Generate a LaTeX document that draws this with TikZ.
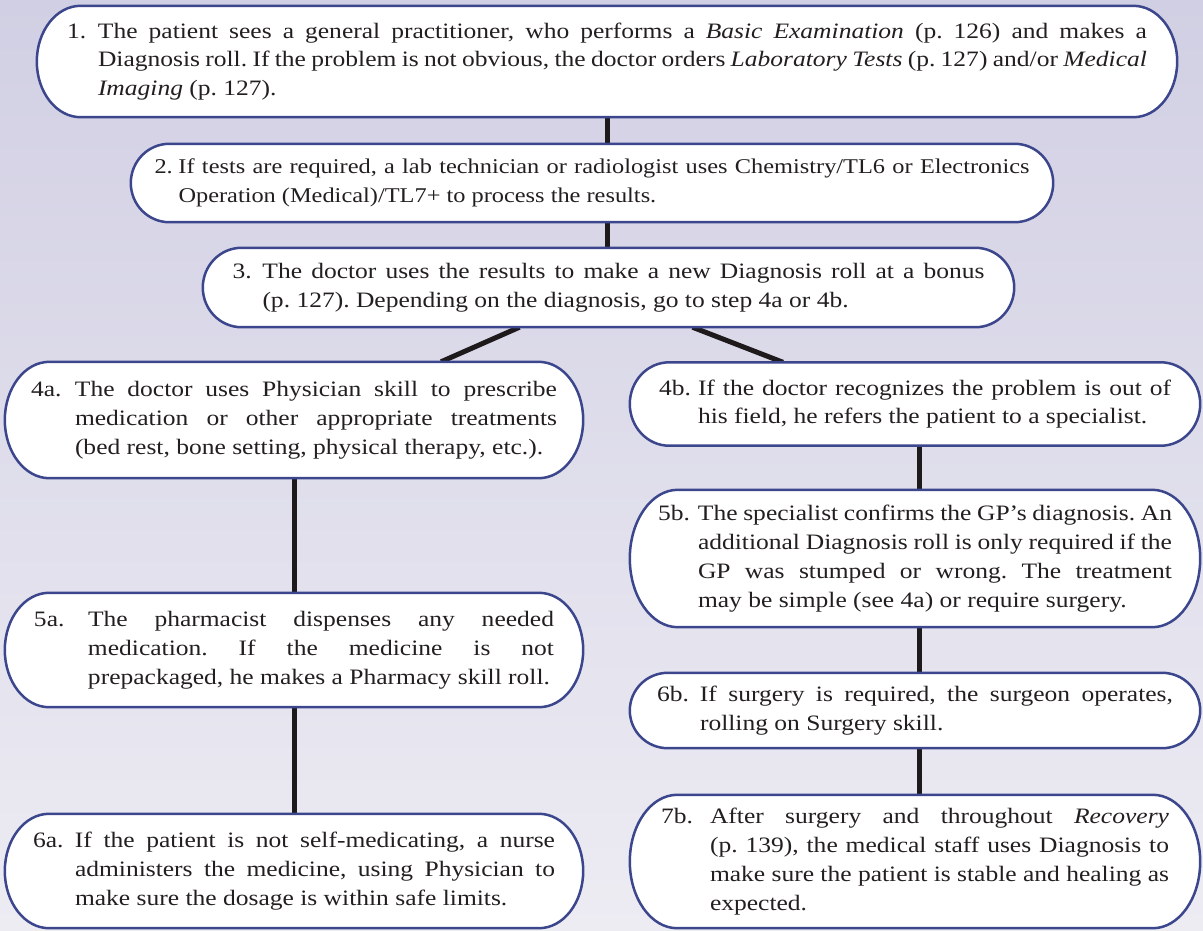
\documentclass[tikz,border=0pt]{standalone}
\usepackage{fontspec}
\setmainfont{Liberation Serif}[FakeStretch=1.16]
\usetikzlibrary{calc}
\pgfdeclarelayer{back}
\pgfdeclarelayer{outl}
\pgfsetlayers{back,outl,main}
\definecolor{bgtop}{RGB}{209,207,227}
\definecolor{bgbot}{RGB}{237,236,243}
\definecolor{boxline}{RGB}{59,70,140}
\definecolor{txt}{RGB}{35,31,32}
\definecolor{conncol}{RGB}{30,26,27}
\newcommand\stepbody[3]{\noindent\hangindent=#1pt\hangafter=1\relax\makebox[#1pt][l]{#2}#3\par}
\tolerance=10000
\hbadness=10000
\hfuzz=20pt
\hyphenpenalty=10000
\exhyphenpenalty=10000
\frenchspacing
\begin{document}
\begin{tikzpicture}[x=1pt,y=-1pt,
  flowbox/.style={inner sep=0pt, align=justify, text=txt,
    font=\fontsize{22}{28.8}\selectfont\frenchspacing},
  outline/.style={draw=boxline, line width=2.5pt, fill=white},
  conn/.style={draw=conncol, line width=5pt}]
\useasboundingbox (0,0) rectangle (1203,930);
\begin{pgfonlayer}{back}
\shade[top color=bgtop, bottom color=bgbot] (0,0) rectangle (1203,930);
\end{pgfonlayer}

% nodes (text only; outlines drawn on their own layer)
\node[flowbox, minimum width=1140pt, minimum height=111pt, text width=1080pt] (b1) at (607,61.5)
 {\stepbody{31}{1.}{The patient sees a general practitioner, who performs a \textit{Basic Examination} (p.~126) and makes a\linebreak Diagnosis roll. If the problem is not obvious, the doctor orders \textit{Laboratory Tests} (p.~127) and/or \textit{Medical}\linebreak \textit{Imaging} (p.~127).}};
\node[flowbox, font=\fontsize{21}{28.8}\selectfont\frenchspacing, minimum width=922pt, minimum height=78pt, text width=875pt] (b2) at (592,183)
 {\stepbody{24}{2.}{If tests are required, a lab technician or radiologist uses Chemistry/TL6 or Electronics\linebreak Operation (Medical)/TL7+ to process the results.}};
\node[flowbox, minimum width=811pt, minimum height=79pt, text width=752pt] (b3) at (608.5,287.5)
 {\stepbody{30}{3.}{The doctor uses the results to make a new Diagnosis roll at a bonus\linebreak (p.~127). Depending on the diagnosis, go to step 4a or 4b.}};
\node[flowbox, minimum width=578pt, minimum height=116pt, text width=526pt] (b4a) at (294,420)
 {\stepbody{44}{4a.}{The doctor uses Physician skill to prescribe\linebreak medication or other appropriate treatments\linebreak (bed rest, bone setting, physical therapy, etc.).}};
\node[flowbox, minimum width=570pt, minimum height=83pt, text width=512pt] (b4b) at (915,404)
 {\stepbody{39}{4b.}{If the doctor recognizes the problem is out of\linebreak his field, he refers the patient to a specialist.}};
\node[flowbox, minimum width=570pt, minimum height=137pt, text width=514pt] (b5b) at (915,558.5)
 {\stepbody{40}{5b.}{The specialist confirms the GP’s diagnosis. An\linebreak additional Diagnosis roll is only required if the\linebreak GP was stumped or wrong. The treatment\linebreak may be simple (see 4a) or require surgery.}};
\node[flowbox, minimum width=578pt, minimum height=114pt, text width=520pt] (b5a) at (294,650)
 {\stepbody{54}{5a.}{The pharmacist dispenses any needed\linebreak medication. If the medicine is not\linebreak prepackaged, he makes a Pharmacy skill roll.}};
\node[flowbox, minimum width=578pt, minimum height=114pt, text width=522pt] (b6a) at (294,871)
 {\stepbody{42}{6a.}{If the patient is not self-medicating, a nurse\linebreak administers the medicine, using Physician to\linebreak make sure the dosage is within safe limits.}};
\node[flowbox, minimum width=570pt, minimum height=75pt, text width=516pt] (b6b) at (915,710.5)
 {\stepbody{43}{6b.}{If surgery is required, the surgeon operates,\linebreak rolling on Surgery skill.}};
\node[flowbox, minimum width=570pt, minimum height=133pt, text width=508pt] (b7b) at (915,861.5)
 {\stepbody{49}{7b.}{After surgery and throughout \textit{Recovery}\linebreak (p.~139), the medical staff uses Diagnosis to\linebreak make sure the patient is stable and healing as\linebreak expected.}};

% connectors
\begin{pgfonlayer}{back}
\draw[conn] (b1.south) -- (b1.south |- b2.north);
\draw[conn] (b2.south -| b1.south) -- (b3.north -| b1.south);
\draw[conn] ([xshift=-89pt]b3.south) -- ([xshift=147pt]b4a.north);
\draw[conn] ([xshift=84pt]b3.south) -- ([xshift=-132pt]b4b.north);
\draw[conn] (b4a.south) -- (b5a.north);
\draw[conn] (b5a.south) -- (b6a.north);
\draw[conn] ([xshift=4pt]b4b.south) -- ([xshift=4pt]b5b.north);
\draw[conn] ([xshift=4pt]b5b.south) -- ([xshift=4pt]b6b.north);
\draw[conn] ([xshift=4pt]b6b.south) -- ([xshift=4pt]b7b.north);
\end{pgfonlayer}

% outlines
\begin{pgfonlayer}{outl}
\foreach \bx in {b1,b2,b3,b4a,b4b,b5b,b5a,b6a,b6b,b7b}{
  \draw[outline] let \p1=(\bx.north west), \p2=(\bx.south east),
     \n1={26+0.16*(\y1-\y2)}, \n2={0.5*(\y1-\y2)} in
     (\x1+\n1,\y1) -- (\x2-\n1,\y1)
     arc[start angle=90, end angle=-90, x radius=\n1*1pt, y radius=\n2*1pt]
     -- (\x1+\n1,\y2)
     arc[start angle=270, end angle=90, x radius=\n1*1pt, y radius=\n2*1pt]
     -- cycle;
}
\end{pgfonlayer}
\end{tikzpicture}
\end{document}
